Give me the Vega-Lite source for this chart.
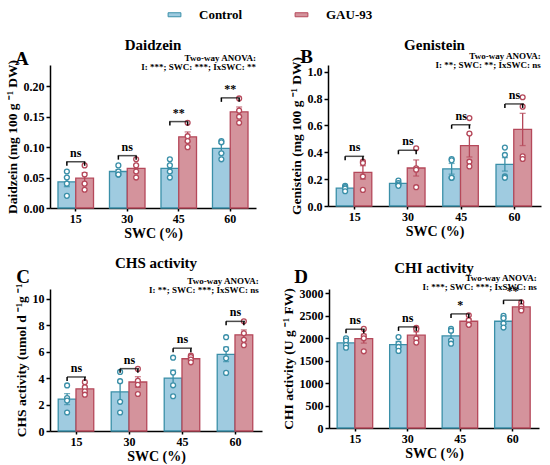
{
"$schema":"https://vega.github.io/schema/vega-lite/v6.json",
"padding":{"top":8,"left":4,"right":4,"bottom":4},
"config":{
"font":"Liberation Serif",
"view":{"stroke":null},
"axis":{"domainColor":"black","domainWidth":1.5,"tickColor":"black","tickWidth":1.5,"tickSize":4,"labelFont":"Liberation Serif","labelFontWeight":"bold","labelFontSize":12,"labelColor":"black","labelOverlap":false,"titleFont":"Liberation Serif","titleFontWeight":"bold","titleFontSize":14,"titleColor":"black","grid":false},
"axisY":{"titleFontSize":13.5},
"axisX":{"labelAngle":0,"tickSize":3,"titlePadding":2},
"title":{"font":"Liberation Serif","fontSize":15,"fontWeight":"bold","color":"black","offset":-4},
"text":{"font":"Liberation Serif","color":"black","fontWeight":"bold"},
"legend":{"columnPadding":50,"labelOffset":18}
},
"spacing":16,
"vconcat":[
{"hconcat":[
{"width":206,"height":143,"title":{"text":"Daidzein","offset":-3},
"data":{"values":[
{"SWC":15,"group":"Control","mean":0.043,"lo":0.035,"hi":0.051,"bh":0.076,"sig":"ns"},
{"SWC":15,"group":"GAU-93","mean":0.049,"lo":0.040,"hi":0.058,"bh":0.076,"sig":"ns"},
{"SWC":30,"group":"Control","mean":0.060,"lo":0.057,"hi":0.063,"bh":0.086,"sig":"ns"},
{"SWC":30,"group":"GAU-93","mean":0.065,"lo":0.059,"hi":0.071,"bh":0.086,"sig":"ns"},
{"SWC":45,"group":"Control","mean":0.065,"lo":0.059,"hi":0.071,"bh":0.142,"sig":"**"},
{"SWC":45,"group":"GAU-93","mean":0.117,"lo":0.109,"hi":0.125,"bh":0.142,"sig":"**"},
{"SWC":60,"group":"Control","mean":0.098,"lo":0.090,"hi":0.106,"bh":0.181,"sig":"**"},
{"SWC":60,"group":"GAU-93","mean":0.158,"lo":0.150,"hi":0.166,"bh":0.181,"sig":"**"}]},
"layer":[
{"mark":{"type":"bar","strokeWidth":1.3},"encoding":{
"x":{"field":"SWC","type":"ordinal","scale":{"paddingInner":0.31,"paddingOuter":0.155},"axis":{"title":"SWC (%)"}},
"xOffset":{"field":"group","type":"nominal","sort":["Control","GAU-93"]},
"y":{"field":"mean","type":"quantitative","scale":{"domain":[0,0.235],"nice":false},"axis":{"title":"Daidzein (mg 100 g ⁻¹ DW)","values":[0,0.05,0.1,0.15,0.2],"tickCount":5,"labelOverlap":false,"format":".2f"}},
"fill":{"field":"group","type":"nominal","scale":{"domain":["Control","GAU-93"],"range":["#9fcbe0","#d4939c"]},"legend":{"orient":"none","legendX":118,"legendY":-57,"direction":"horizontal","title":null,"symbolType":"M-1.6,-0.5H1.6V0.5H-1.6Z","symbolSize":64,"symbolStrokeWidth":1,"labelFontSize":13,"labelFontWeight":"bold","labelFont":"Liberation Serif","labelColor":"black","columnPadding":50,"labelOffset":18}},
"stroke":{"field":"group","type":"nominal","scale":{"domain":["Control","GAU-93"],"range":["#3a8fa8","#b5485a"]},"legend":{"orient":"none","legendX":118,"legendY":-57,"direction":"horizontal","title":null,"symbolType":"M-1.6,-0.5H1.6V0.5H-1.6Z","symbolSize":64,"symbolStrokeWidth":1,"labelFontSize":13,"labelFontWeight":"bold","labelFont":"Liberation Serif","labelColor":"black","columnPadding":50,"labelOffset":18}}}},
{"mark":{"type":"rule","strokeWidth":1.3},"encoding":{
"x":{"field":"SWC","type":"ordinal"},"xOffset":{"field":"group","type":"nominal","sort":["Control","GAU-93"]},
"y":{"field":"lo","type":"quantitative"},"y2":{"field":"hi"},
"stroke":{"field":"group","type":"nominal","scale":{"domain":["Control","GAU-93"],"range":["#3a8fa8","#b5485a"]}}}},
{"mark":{"type":"tick","orient":"horizontal","size":6,"thickness":1.3},"encoding":{
"x":{"field":"SWC","type":"ordinal"},"xOffset":{"field":"group","type":"nominal","sort":["Control","GAU-93"]},
"y":{"field":"hi","type":"quantitative"},
"color":{"field":"group","type":"nominal","scale":{"domain":["Control","GAU-93"],"range":["#3a8fa8","#b5485a"]},"legend":null}}},
{"mark":{"type":"tick","orient":"horizontal","size":6,"thickness":1.3},"encoding":{
"x":{"field":"SWC","type":"ordinal"},"xOffset":{"field":"group","type":"nominal","sort":["Control","GAU-93"]},
"y":{"field":"lo","type":"quantitative"},
"color":{"field":"group","type":"nominal","scale":{"domain":["Control","GAU-93"],"range":["#3a8fa8","#b5485a"]},"legend":null}}},
{"data":{"values":[
{"SWC":15,"group":"Control","value":0.06},{"SWC":15,"group":"Control","value":0.05},{"SWC":15,"group":"Control","value":0.04},{"SWC":15,"group":"Control","value":0.02},
{"SWC":15,"group":"GAU-93","value":0.07},{"SWC":15,"group":"GAU-93","value":0.055},{"SWC":15,"group":"GAU-93","value":0.04},{"SWC":15,"group":"GAU-93","value":0.03},
{"SWC":30,"group":"Control","value":0.07},{"SWC":30,"group":"Control","value":0.06},{"SWC":30,"group":"Control","value":0.055},{"SWC":30,"group":"Control","value":0.055},
{"SWC":30,"group":"GAU-93","value":0.08},{"SWC":30,"group":"GAU-93","value":0.07},{"SWC":30,"group":"GAU-93","value":0.06},{"SWC":30,"group":"GAU-93","value":0.05},
{"SWC":45,"group":"Control","value":0.08},{"SWC":45,"group":"Control","value":0.07},{"SWC":45,"group":"Control","value":0.06},{"SWC":45,"group":"Control","value":0.05},
{"SWC":45,"group":"GAU-93","value":0.14},{"SWC":45,"group":"GAU-93","value":0.118},{"SWC":45,"group":"GAU-93","value":0.11},{"SWC":45,"group":"GAU-93","value":0.10},
{"SWC":60,"group":"Control","value":0.11},{"SWC":60,"group":"Control","value":0.108},{"SWC":60,"group":"Control","value":0.09},{"SWC":60,"group":"Control","value":0.08},
{"SWC":60,"group":"GAU-93","value":0.18},{"SWC":60,"group":"GAU-93","value":0.16},{"SWC":60,"group":"GAU-93","value":0.15},{"SWC":60,"group":"GAU-93","value":0.14}]},
"mark":{"type":"point","filled":false,"fill":"white","fillOpacity":1,"opacity":1,"size":24,"strokeWidth":1.3},"encoding":{
"x":{"field":"SWC","type":"ordinal"},"xOffset":{"field":"group","type":"nominal","sort":["Control","GAU-93"]},
"y":{"field":"value","type":"quantitative"},
"stroke":{"field":"group","type":"nominal","scale":{"domain":["Control","GAU-93"],"range":["#3a8fa8","#b5485a"]}}}},
{"transform":[{"filter":"datum.group == 'Control'"}],"mark":{"type":"tick","orient":"horizontal","size":19,"thickness":1.5,"color":"black"},"encoding":{
"x":{"field":"SWC","type":"ordinal"},"y":{"field":"bh","type":"quantitative"}}},
{"mark":{"type":"rule","strokeWidth":1.5,"color":"black","y2Offset":4},"encoding":{
"x":{"field":"SWC","type":"ordinal"},"xOffset":{"field":"group","type":"nominal","sort":["Control","GAU-93"]},
"y":{"field":"bh","type":"quantitative"},"y2":{"field":"bh"}}},
{"transform":[{"filter":"datum.group == 'Control'"}],"mark":{"type":"text","baseline":"bottom","dy":-2,"fontSize":12},"encoding":{
"x":{"field":"SWC","type":"ordinal"},"y":{"field":"bh","type":"quantitative"},"text":{"field":"sig"}}},
{"data":{"values":[{"SWC":15,"t":"A"}]},"mark":{"type":"text","align":"left","baseline":"alphabetic","dx":-43,"fontSize":19},"encoding":{
"x":{"field":"SWC","type":"ordinal","bandPosition":0},"y":{"datum":0.235},"text":{"field":"t"}}},
{"data":{"values":[{"SWC":60,"t":"Two-way ANOVA:\nI: ***; SWC: ***; IxSWC: **"}]},"mark":{"type":"text","align":"right","baseline":"alphabetic","dx":8,"dy":-4,"fontSize":9,"lineBreak":"\n","lineHeight":8.5},"encoding":{
"x":{"field":"SWC","type":"ordinal","bandPosition":1},"y":{"datum":0.235},"text":{"field":"t"}}}
]},
{"width":213,"height":141,"title":{"text":"Genistein","offset":-5},
"data":{"values":[
{"SWC":15,"group":"Control","mean":0.133,"lo":0.123,"hi":0.143,"bh":0.37,"sig":"ns"},
{"SWC":15,"group":"GAU-93","mean":0.25,"lo":0.20,"hi":0.30,"bh":0.37,"sig":"ns"},
{"SWC":30,"group":"Control","mean":0.168,"lo":0.158,"hi":0.178,"bh":0.415,"sig":"ns"},
{"SWC":30,"group":"GAU-93","mean":0.283,"lo":0.223,"hi":0.343,"bh":0.415,"sig":"ns"},
{"SWC":45,"group":"Control","mean":0.277,"lo":0.237,"hi":0.317,"bh":0.605,"sig":"ns"},
{"SWC":45,"group":"GAU-93","mean":0.45,"lo":0.365,"hi":0.535,"bh":0.605,"sig":"ns"},
{"SWC":60,"group":"Control","mean":0.31,"lo":0.26,"hi":0.36,"bh":0.76,"sig":"ns"},
{"SWC":60,"group":"GAU-93","mean":0.57,"lo":0.45,"hi":0.69,"bh":0.76,"sig":"ns"}]},
"layer":[
{"mark":{"type":"bar","strokeWidth":1.3},"encoding":{
"x":{"field":"SWC","type":"ordinal","scale":{"paddingInner":0.31,"paddingOuter":0.155},"axis":{"title":"SWC (%)"}},
"xOffset":{"field":"group","type":"nominal","sort":["Control","GAU-93"]},
"y":{"field":"mean","type":"quantitative","scale":{"domain":[0,1.05],"nice":false},"axis":{"title":"Genistein (mg 100 g ⁻¹ DW)","values":[0,0.2,0.4,0.6,0.8,1.0],"tickCount":6,"labelOverlap":false,"format":".1f"}},
"fill":{"field":"group","type":"nominal","scale":{"domain":["Control","GAU-93"],"range":["#9fcbe0","#d4939c"]},"legend":{"orient":"none","legendX":118,"legendY":-57,"direction":"horizontal","title":null,"symbolType":"M-1.6,-0.5H1.6V0.5H-1.6Z","symbolSize":64,"symbolStrokeWidth":1,"labelFontSize":13,"labelFontWeight":"bold","labelFont":"Liberation Serif","labelColor":"black","columnPadding":50,"labelOffset":18}},
"stroke":{"field":"group","type":"nominal","scale":{"domain":["Control","GAU-93"],"range":["#3a8fa8","#b5485a"]},"legend":{"orient":"none","legendX":118,"legendY":-57,"direction":"horizontal","title":null,"symbolType":"M-1.6,-0.5H1.6V0.5H-1.6Z","symbolSize":64,"symbolStrokeWidth":1,"labelFontSize":13,"labelFontWeight":"bold","labelFont":"Liberation Serif","labelColor":"black","columnPadding":50,"labelOffset":18}}}},
{"mark":{"type":"rule","strokeWidth":1.3},"encoding":{
"x":{"field":"SWC","type":"ordinal"},"xOffset":{"field":"group","type":"nominal","sort":["Control","GAU-93"]},
"y":{"field":"lo","type":"quantitative"},"y2":{"field":"hi"},
"stroke":{"field":"group","type":"nominal","scale":{"domain":["Control","GAU-93"],"range":["#3a8fa8","#b5485a"]}}}},
{"mark":{"type":"tick","orient":"horizontal","size":6,"thickness":1.3},"encoding":{
"x":{"field":"SWC","type":"ordinal"},"xOffset":{"field":"group","type":"nominal","sort":["Control","GAU-93"]},
"y":{"field":"hi","type":"quantitative"},
"color":{"field":"group","type":"nominal","scale":{"domain":["Control","GAU-93"],"range":["#3a8fa8","#b5485a"]},"legend":null}}},
{"mark":{"type":"tick","orient":"horizontal","size":6,"thickness":1.3},"encoding":{
"x":{"field":"SWC","type":"ordinal"},"xOffset":{"field":"group","type":"nominal","sort":["Control","GAU-93"]},
"y":{"field":"lo","type":"quantitative"},
"color":{"field":"group","type":"nominal","scale":{"domain":["Control","GAU-93"],"range":["#3a8fa8","#b5485a"]},"legend":null}}},
{"data":{"values":[
{"SWC":15,"group":"Control","value":0.15},{"SWC":15,"group":"Control","value":0.14},{"SWC":15,"group":"Control","value":0.13},{"SWC":15,"group":"Control","value":0.11},
{"SWC":15,"group":"GAU-93","value":0.33},{"SWC":15,"group":"GAU-93","value":0.32},{"SWC":15,"group":"GAU-93","value":0.22},{"SWC":15,"group":"GAU-93","value":0.12},
{"SWC":30,"group":"Control","value":0.19},{"SWC":30,"group":"Control","value":0.17},{"SWC":30,"group":"Control","value":0.16},{"SWC":30,"group":"Control","value":0.15},
{"SWC":30,"group":"GAU-93","value":0.43},{"SWC":30,"group":"GAU-93","value":0.28},{"SWC":30,"group":"GAU-93","value":0.27},{"SWC":30,"group":"GAU-93","value":0.14},
{"SWC":45,"group":"Control","value":0.35},{"SWC":45,"group":"Control","value":0.34},{"SWC":45,"group":"Control","value":0.21},{"SWC":45,"group":"Control","value":0.21},
{"SWC":45,"group":"GAU-93","value":0.655},{"SWC":45,"group":"GAU-93","value":0.54},{"SWC":45,"group":"GAU-93","value":0.33},{"SWC":45,"group":"GAU-93","value":0.295},
{"SWC":60,"group":"Control","value":0.435},{"SWC":60,"group":"Control","value":0.38},{"SWC":60,"group":"Control","value":0.22},{"SWC":60,"group":"Control","value":0.21},
{"SWC":60,"group":"GAU-93","value":0.81},{"SWC":60,"group":"GAU-93","value":0.74},{"SWC":60,"group":"GAU-93","value":0.37},{"SWC":60,"group":"GAU-93","value":0.35}]},
"mark":{"type":"point","filled":false,"fill":"white","fillOpacity":1,"opacity":1,"size":24,"strokeWidth":1.3},"encoding":{
"x":{"field":"SWC","type":"ordinal"},"xOffset":{"field":"group","type":"nominal","sort":["Control","GAU-93"]},
"y":{"field":"value","type":"quantitative"},
"stroke":{"field":"group","type":"nominal","scale":{"domain":["Control","GAU-93"],"range":["#3a8fa8","#b5485a"]}}}},
{"transform":[{"filter":"datum.group == 'Control'"}],"mark":{"type":"tick","orient":"horizontal","size":19,"thickness":1.5,"color":"black"},"encoding":{
"x":{"field":"SWC","type":"ordinal"},"y":{"field":"bh","type":"quantitative"}}},
{"mark":{"type":"rule","strokeWidth":1.5,"color":"black","y2Offset":4},"encoding":{
"x":{"field":"SWC","type":"ordinal"},"xOffset":{"field":"group","type":"nominal","sort":["Control","GAU-93"]},
"y":{"field":"bh","type":"quantitative"},"y2":{"field":"bh"}}},
{"transform":[{"filter":"datum.group == 'Control'"}],"mark":{"type":"text","baseline":"bottom","dy":-2,"fontSize":12},"encoding":{
"x":{"field":"SWC","type":"ordinal"},"y":{"field":"bh","type":"quantitative"},"text":{"field":"sig"}}},
{"data":{"values":[{"SWC":15,"t":"B"}]},"mark":{"type":"text","align":"left","baseline":"alphabetic","dx":-36,"dy":-2,"fontSize":19},"encoding":{
"x":{"field":"SWC","type":"ordinal","bandPosition":0},"y":{"datum":1.05},"text":{"field":"t"}}},
{"data":{"values":[{"SWC":60,"t":"Two-way ANOVA:\nI: **; SWC: **; IxSWC: ns"}]},"mark":{"type":"text","align":"right","baseline":"alphabetic","dx":8,"dy":-6,"fontSize":9,"lineBreak":"\n","lineHeight":8.5},"encoding":{
"x":{"field":"SWC","type":"ordinal","bandPosition":1},"y":{"datum":1.05},"text":{"field":"t"}}}
]}
],"spacing":31},
{"hconcat":[
{"width":212,"height":142,"title":{"text":"CHS activity","offset":-3},
"data":{"values":[
{"SWC":15,"group":"Control","mean":2.41,"lo":1.99,"hi":2.83,"bh":4.09,"sig":"ns"},
{"SWC":15,"group":"GAU-93","mean":3.19,"lo":2.99,"hi":3.39,"bh":4.09,"sig":"ns"},
{"SWC":30,"group":"Control","mean":2.96,"lo":2.26,"hi":3.66,"bh":4.72,"sig":"ns"},
{"SWC":30,"group":"GAU-93","mean":3.71,"lo":3.31,"hi":4.11,"bh":4.72,"sig":"ns"},
{"SWC":45,"group":"Control","mean":4.01,"lo":3.41,"hi":4.61,"bh":6.27,"sig":"ns"},
{"SWC":45,"group":"GAU-93","mean":5.47,"lo":5.35,"hi":5.59,"bh":6.27,"sig":"ns"},
{"SWC":60,"group":"Control","mean":5.8,"lo":5.25,"hi":6.35,"bh":8.3,"sig":"ns"},
{"SWC":60,"group":"GAU-93","mean":7.28,"lo":6.91,"hi":7.65,"bh":8.3,"sig":"ns"}]},
"layer":[
{"mark":{"type":"bar","strokeWidth":1.3},"encoding":{
"x":{"field":"SWC","type":"ordinal","scale":{"paddingInner":0.31,"paddingOuter":0.155},"axis":{"title":"SWC (%)"}},
"xOffset":{"field":"group","type":"nominal","sort":["Control","GAU-93"]},
"y":{"field":"mean","type":"quantitative","scale":{"domain":[0,10.75],"nice":false},"axis":{"title":"CHS activity (umol d ⁻¹g ⁻¹","values":[0,2,4,6,8,10],"tickCount":6,"labelOverlap":false}},
"fill":{"field":"group","type":"nominal","scale":{"domain":["Control","GAU-93"],"range":["#9fcbe0","#d4939c"]},"legend":{"orient":"none","legendX":118,"legendY":-57,"direction":"horizontal","title":null,"symbolType":"M-1.6,-0.5H1.6V0.5H-1.6Z","symbolSize":64,"symbolStrokeWidth":1,"labelFontSize":13,"labelFontWeight":"bold","labelFont":"Liberation Serif","labelColor":"black","columnPadding":50,"labelOffset":18}},
"stroke":{"field":"group","type":"nominal","scale":{"domain":["Control","GAU-93"],"range":["#3a8fa8","#b5485a"]},"legend":{"orient":"none","legendX":118,"legendY":-57,"direction":"horizontal","title":null,"symbolType":"M-1.6,-0.5H1.6V0.5H-1.6Z","symbolSize":64,"symbolStrokeWidth":1,"labelFontSize":13,"labelFontWeight":"bold","labelFont":"Liberation Serif","labelColor":"black","columnPadding":50,"labelOffset":18}}}},
{"mark":{"type":"rule","strokeWidth":1.3},"encoding":{
"x":{"field":"SWC","type":"ordinal"},"xOffset":{"field":"group","type":"nominal","sort":["Control","GAU-93"]},
"y":{"field":"lo","type":"quantitative"},"y2":{"field":"hi"},
"stroke":{"field":"group","type":"nominal","scale":{"domain":["Control","GAU-93"],"range":["#3a8fa8","#b5485a"]}}}},
{"mark":{"type":"tick","orient":"horizontal","size":6,"thickness":1.3},"encoding":{
"x":{"field":"SWC","type":"ordinal"},"xOffset":{"field":"group","type":"nominal","sort":["Control","GAU-93"]},
"y":{"field":"hi","type":"quantitative"},
"color":{"field":"group","type":"nominal","scale":{"domain":["Control","GAU-93"],"range":["#3a8fa8","#b5485a"]},"legend":null}}},
{"mark":{"type":"tick","orient":"horizontal","size":6,"thickness":1.3},"encoding":{
"x":{"field":"SWC","type":"ordinal"},"xOffset":{"field":"group","type":"nominal","sort":["Control","GAU-93"]},
"y":{"field":"lo","type":"quantitative"},
"color":{"field":"group","type":"nominal","scale":{"domain":["Control","GAU-93"],"range":["#3a8fa8","#b5485a"]},"legend":null}}},
{"data":{"values":[
{"SWC":15,"group":"Control","value":3.45},{"SWC":15,"group":"Control","value":2.5},{"SWC":15,"group":"Control","value":2.3},{"SWC":15,"group":"Control","value":1.4},
{"SWC":15,"group":"GAU-93","value":3.7},{"SWC":15,"group":"GAU-93","value":3.3},{"SWC":15,"group":"GAU-93","value":3.0},{"SWC":15,"group":"GAU-93","value":2.75},
{"SWC":30,"group":"Control","value":4.47},{"SWC":30,"group":"Control","value":3.77},{"SWC":30,"group":"Control","value":2.21},{"SWC":30,"group":"Control","value":1.4},
{"SWC":30,"group":"GAU-93","value":4.7},{"SWC":30,"group":"GAU-93","value":3.8},{"SWC":30,"group":"GAU-93","value":3.5},{"SWC":30,"group":"GAU-93","value":2.8},
{"SWC":45,"group":"Control","value":5.55},{"SWC":45,"group":"Control","value":4.42},{"SWC":45,"group":"Control","value":3.46},{"SWC":45,"group":"Control","value":2.63},
{"SWC":45,"group":"GAU-93","value":5.7},{"SWC":45,"group":"GAU-93","value":5.6},{"SWC":45,"group":"GAU-93","value":5.4},{"SWC":45,"group":"GAU-93","value":5.2},
{"SWC":60,"group":"Control","value":7.1},{"SWC":60,"group":"Control","value":6.2},{"SWC":60,"group":"Control","value":5.5},{"SWC":60,"group":"Control","value":4.4},
{"SWC":60,"group":"GAU-93","value":8.3},{"SWC":60,"group":"GAU-93","value":7.4},{"SWC":60,"group":"GAU-93","value":6.9},{"SWC":60,"group":"GAU-93","value":6.5}]},
"mark":{"type":"point","filled":false,"fill":"white","fillOpacity":1,"opacity":1,"size":24,"strokeWidth":1.3},"encoding":{
"x":{"field":"SWC","type":"ordinal"},"xOffset":{"field":"group","type":"nominal","sort":["Control","GAU-93"]},
"y":{"field":"value","type":"quantitative"},
"stroke":{"field":"group","type":"nominal","scale":{"domain":["Control","GAU-93"],"range":["#3a8fa8","#b5485a"]}}}},
{"transform":[{"filter":"datum.group == 'Control'"}],"mark":{"type":"tick","orient":"horizontal","size":19,"thickness":1.5,"color":"black"},"encoding":{
"x":{"field":"SWC","type":"ordinal"},"y":{"field":"bh","type":"quantitative"}}},
{"mark":{"type":"rule","strokeWidth":1.5,"color":"black","y2Offset":4},"encoding":{
"x":{"field":"SWC","type":"ordinal"},"xOffset":{"field":"group","type":"nominal","sort":["Control","GAU-93"]},
"y":{"field":"bh","type":"quantitative"},"y2":{"field":"bh"}}},
{"transform":[{"filter":"datum.group == 'Control'"}],"mark":{"type":"text","baseline":"bottom","dy":-2,"fontSize":12},"encoding":{
"x":{"field":"SWC","type":"ordinal"},"y":{"field":"bh","type":"quantitative"},"text":{"field":"sig"}}},
{"data":{"values":[{"SWC":15,"t":"C"}]},"mark":{"type":"text","align":"left","baseline":"alphabetic","dx":-42,"dy":-6,"fontSize":19},"encoding":{
"x":{"field":"SWC","type":"ordinal","bandPosition":0},"y":{"datum":10.75},"text":{"field":"t"}}},
{"data":{"values":[{"SWC":60,"t":"Two-way ANOVA:\nI: **; SWC: ***; IxSWC: ns"}]},"mark":{"type":"text","align":"right","baseline":"alphabetic","dx":5,"dy":-5,"fontSize":9,"lineBreak":"\n","lineHeight":8.5},"encoding":{
"x":{"field":"SWC","type":"ordinal","bandPosition":1},"y":{"datum":10.75},"text":{"field":"t"}}}
]},
{"width":210,"height":139,"title":{"text":"CHI activity","offset":-8},
"data":{"values":[
{"SWC":15,"group":"Control","mean":1897,"lo":1847,"hi":1947,"bh":2203,"sig":"ns"},
{"SWC":15,"group":"GAU-93","mean":1993,"lo":1893,"hi":2093,"bh":2203,"sig":"ns"},
{"SWC":30,"group":"Control","mean":1860,"lo":1790,"hi":1930,"bh":2255,"sig":"ns"},
{"SWC":30,"group":"GAU-93","mean":2070,"lo":1995,"hi":2145,"bh":2255,"sig":"ns"},
{"SWC":45,"group":"Control","mean":2054,"lo":1974,"hi":2134,"bh":2545,"sig":"*"},
{"SWC":45,"group":"GAU-93","mean":2381,"lo":2331,"hi":2431,"bh":2545,"sig":"*"},
{"SWC":60,"group":"Control","mean":2381,"lo":2321,"hi":2441,"bh":2850,"sig":"**"},
{"SWC":60,"group":"GAU-93","mean":2701,"lo":2661,"hi":2741,"bh":2850,"sig":"**"}]},
"layer":[
{"mark":{"type":"bar","strokeWidth":1.3},"encoding":{
"x":{"field":"SWC","type":"ordinal","scale":{"paddingInner":0.31,"paddingOuter":0.155},"axis":{"title":"SWC (%)"}},
"xOffset":{"field":"group","type":"nominal","sort":["Control","GAU-93"]},
"y":{"field":"mean","type":"quantitative","scale":{"domain":[0,3100],"nice":false},"axis":{"title":"CHI activity (U g ⁻¹ FW)","values":[0,500,1000,1500,2000,2500,3000],"tickCount":7,"labelOverlap":false,"format":"d"}},
"fill":{"field":"group","type":"nominal","scale":{"domain":["Control","GAU-93"],"range":["#9fcbe0","#d4939c"]},"legend":{"orient":"none","legendX":118,"legendY":-57,"direction":"horizontal","title":null,"symbolType":"M-1.6,-0.5H1.6V0.5H-1.6Z","symbolSize":64,"symbolStrokeWidth":1,"labelFontSize":13,"labelFontWeight":"bold","labelFont":"Liberation Serif","labelColor":"black","columnPadding":50,"labelOffset":18}},
"stroke":{"field":"group","type":"nominal","scale":{"domain":["Control","GAU-93"],"range":["#3a8fa8","#b5485a"]},"legend":{"orient":"none","legendX":118,"legendY":-57,"direction":"horizontal","title":null,"symbolType":"M-1.6,-0.5H1.6V0.5H-1.6Z","symbolSize":64,"symbolStrokeWidth":1,"labelFontSize":13,"labelFontWeight":"bold","labelFont":"Liberation Serif","labelColor":"black","columnPadding":50,"labelOffset":18}}}},
{"mark":{"type":"rule","strokeWidth":1.3},"encoding":{
"x":{"field":"SWC","type":"ordinal"},"xOffset":{"field":"group","type":"nominal","sort":["Control","GAU-93"]},
"y":{"field":"lo","type":"quantitative"},"y2":{"field":"hi"},
"stroke":{"field":"group","type":"nominal","scale":{"domain":["Control","GAU-93"],"range":["#3a8fa8","#b5485a"]}}}},
{"mark":{"type":"tick","orient":"horizontal","size":6,"thickness":1.3},"encoding":{
"x":{"field":"SWC","type":"ordinal"},"xOffset":{"field":"group","type":"nominal","sort":["Control","GAU-93"]},
"y":{"field":"hi","type":"quantitative"},
"color":{"field":"group","type":"nominal","scale":{"domain":["Control","GAU-93"],"range":["#3a8fa8","#b5485a"]},"legend":null}}},
{"mark":{"type":"tick","orient":"horizontal","size":6,"thickness":1.3},"encoding":{
"x":{"field":"SWC","type":"ordinal"},"xOffset":{"field":"group","type":"nominal","sort":["Control","GAU-93"]},
"y":{"field":"lo","type":"quantitative"},
"color":{"field":"group","type":"nominal","scale":{"domain":["Control","GAU-93"],"range":["#3a8fa8","#b5485a"]},"legend":null}}},
{"data":{"values":[
{"SWC":15,"group":"Control","value":2000},{"SWC":15,"group":"Control","value":1950},{"SWC":15,"group":"Control","value":1850},{"SWC":15,"group":"Control","value":1790},
{"SWC":15,"group":"GAU-93","value":2210},{"SWC":15,"group":"GAU-93","value":2050},{"SWC":15,"group":"GAU-93","value":2000},{"SWC":15,"group":"GAU-93","value":1710},
{"SWC":30,"group":"Control","value":2030},{"SWC":30,"group":"Control","value":1880},{"SWC":30,"group":"Control","value":1808},{"SWC":30,"group":"Control","value":1720},
{"SWC":30,"group":"GAU-93","value":2232},{"SWC":30,"group":"GAU-93","value":2200},{"SWC":30,"group":"GAU-93","value":1994},{"SWC":30,"group":"GAU-93","value":1905},
{"SWC":45,"group":"Control","value":2210},{"SWC":45,"group":"Control","value":2170},{"SWC":45,"group":"Control","value":1950},{"SWC":45,"group":"Control","value":1880},
{"SWC":45,"group":"GAU-93","value":2515},{"SWC":45,"group":"GAU-93","value":2403},{"SWC":45,"group":"GAU-93","value":2306},{"SWC":45,"group":"GAU-93","value":2300},
{"SWC":60,"group":"Control","value":2500},{"SWC":60,"group":"Control","value":2450},{"SWC":60,"group":"Control","value":2330},{"SWC":60,"group":"Control","value":2240},
{"SWC":60,"group":"GAU-93","value":2800},{"SWC":60,"group":"GAU-93","value":2720},{"SWC":60,"group":"GAU-93","value":2660},{"SWC":60,"group":"GAU-93","value":2620}]},
"mark":{"type":"point","filled":false,"fill":"white","fillOpacity":1,"opacity":1,"size":24,"strokeWidth":1.3},"encoding":{
"x":{"field":"SWC","type":"ordinal"},"xOffset":{"field":"group","type":"nominal","sort":["Control","GAU-93"]},
"y":{"field":"value","type":"quantitative"},
"stroke":{"field":"group","type":"nominal","scale":{"domain":["Control","GAU-93"],"range":["#3a8fa8","#b5485a"]}}}},
{"transform":[{"filter":"datum.group == 'Control'"}],"mark":{"type":"tick","orient":"horizontal","size":19,"thickness":1.5,"color":"black"},"encoding":{
"x":{"field":"SWC","type":"ordinal"},"y":{"field":"bh","type":"quantitative"}}},
{"mark":{"type":"rule","strokeWidth":1.5,"color":"black","y2Offset":4},"encoding":{
"x":{"field":"SWC","type":"ordinal"},"xOffset":{"field":"group","type":"nominal","sort":["Control","GAU-93"]},
"y":{"field":"bh","type":"quantitative"},"y2":{"field":"bh"}}},
{"transform":[{"filter":"datum.group == 'Control'"}],"mark":{"type":"text","baseline":"bottom","dy":-2,"fontSize":12},"encoding":{
"x":{"field":"SWC","type":"ordinal"},"y":{"field":"bh","type":"quantitative"},"text":{"field":"sig"}}},
{"data":{"values":[{"SWC":15,"t":"D"}]},"mark":{"type":"text","align":"left","baseline":"alphabetic","dx":-43,"dy":-6,"fontSize":19},"encoding":{
"x":{"field":"SWC","type":"ordinal","bandPosition":0},"y":{"datum":3100},"text":{"field":"t"}}},
{"data":{"values":[{"SWC":60,"t":"Two-way ANOVA:\nI: ***; SWC: ***; IxSWC: ns"}]},"mark":{"type":"text","align":"right","baseline":"alphabetic","dx":6,"dy":-8,"fontSize":9,"lineBreak":"\n","lineHeight":8.5},"encoding":{
"x":{"field":"SWC","type":"ordinal","bandPosition":1},"y":{"datum":3100},"text":{"field":"t"}}}
]}
],"spacing":18}
]
}
